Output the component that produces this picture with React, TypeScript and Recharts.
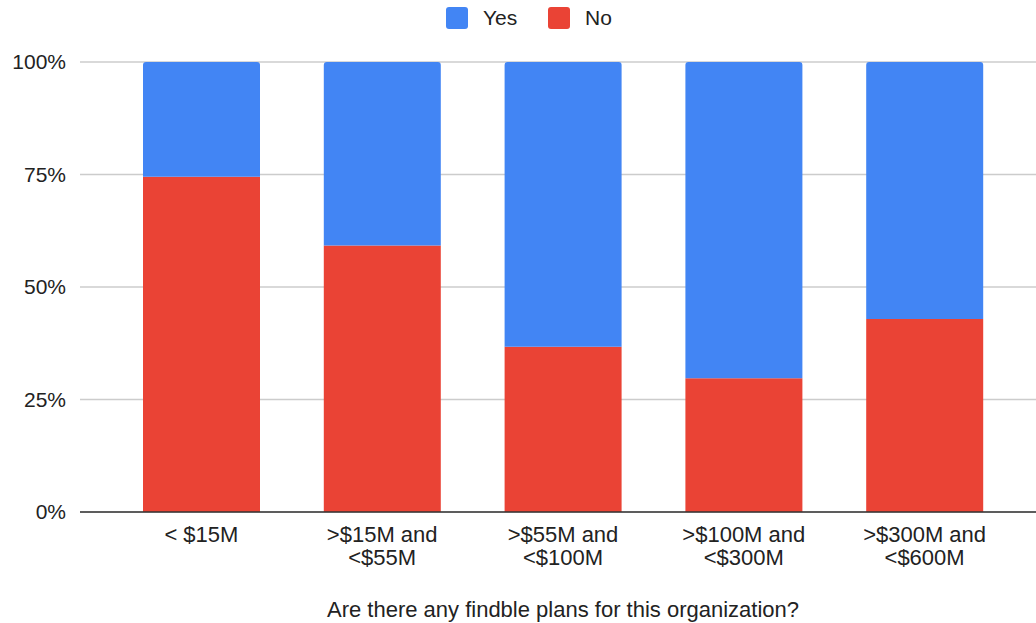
import React from "react";
import { BarChart, Bar, XAxis, YAxis, CartesianGrid, Legend } from "recharts";

const categories = ["< $15M", ">$15M and\n<$55M", ">$55M and\n<$100M", ">$100M and\n<$300M", ">$300M and\n<$600M"];
const noValues = [74.5, 59.2, 36.7, 29.7, 42.9];
const yesValues = [25.5, 40.8, 63.3, 70.3, 57.1];
const yTicks = [0, 25, 50, 75, 100];

const data = categories.map((c, i) => ({ name: c, No: noValues[i], Yes: yesValues[i] }));

const FONT = "'Liberation Sans', Arial, sans-serif";
const BLUE = "#4285F4";
const RED = "#EA4335";

const XTick = (props: any) => {
  const { x, y, payload } = props;
  const lines = String(payload.value).split("\n");
  return (
    <text x={x} y={y} textAnchor="middle" fill="#222" fontSize={22} fontFamily={FONT}>
      {lines.map((l, i) => (
        <tspan key={i} x={x} dy={i === 0 ? 28 : 23}>
          {l}
        </tspan>
      ))}
    </text>
  );
};

const LegendContent = () => (
  <div style={{ height: 62, position: "relative", fontFamily: FONT, fontSize: 21, color: "#222" }}>
    {[
      { label: "Yes", color: BLUE, left: 446 },
      { label: "No", color: RED, left: 548 },
    ].map((it) => (
      <div key={it.label} style={{ position: "absolute", left: it.left, top: 7, display: "flex", alignItems: "center", height: 22 }}>
        <div style={{ width: 22, height: 22, background: it.color, borderRadius: 3 }} />
        <span style={{ marginLeft: 15, lineHeight: "22px" }}>{it.label}</span>
      </div>
    ))}
  </div>
);

export default function App() {
  return (
    <div style={{ position: "fixed", left: 0, top: 0, width: 1036, height: 623, overflow: "hidden", background: "#fff" }}>
      <BarChart width={1036} height={623} data={data} margin={{ top: 0, right: 0, left: 0, bottom: 0 }} style={{ display: "block" }}>
        <Legend verticalAlign="top" align="left" content={<LegendContent />} wrapperStyle={{ left: 0, width: 1036 }} />
        <CartesianGrid vertical={false} stroke="#cccccc" strokeWidth={1.5} />
        <XAxis
          dataKey="name"
          interval={0}
          padding={{ left: 31, right: 21 }}
          tickLine={false}
          tickSize={0}
          tick={<XTick />}
          height={111}
          axisLine={{ stroke: "#333", strokeWidth: 1.5 }}
          label={{
            value: "Are there any findble plans for this organization?",
            position: "insideBottom",
            offset: 6,
            dx: 5,
            fill: "#222",
            fontSize: 22,
            fontFamily: FONT,
          }}
        />
        <YAxis
          width={80}
          domain={[0, 100]}
          ticks={yTicks}
          tickFormatter={(v: number) => `${v}%`}
          axisLine={false}
          tickLine={false}
          tickSize={0}
          tickMargin={14}
          tick={{ fill: "#222", fontSize: 21, fontFamily: FONT }}
        />
        <Bar dataKey="No" stackId="a" fill={RED} barSize={117} isAnimationActive={false} />
        <Bar dataKey="Yes" stackId="a" fill={BLUE} barSize={117} radius={[3, 3, 0, 0]} isAnimationActive={false} />
      </BarChart>
    </div>
  );
}
